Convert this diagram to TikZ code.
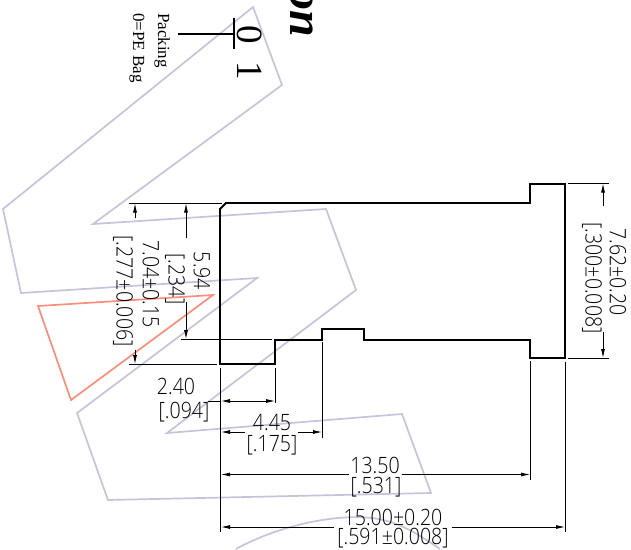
\documentclass[tikz,border=0pt]{standalone}
\usepackage{fontspec}
\usetikzlibrary{arrows.meta}
\setmainfont{Liberation Serif}
\newfontfamily\dimfont{Open Sans Light}
\definecolor{lav}{HTML}{C6C3DA}
\definecolor{sal}{HTML}{FA8E7C}
\tikzset{
  x=1pt,y=-1pt,
  ghost/.style={draw=lav,line width=1.7pt,line join=miter},
  tri/.style={draw=sal,line width=1.7pt},
  part/.style={draw=black,line width=1.8pt,line join=miter},
  ext/.style={draw=black,line width=0.8pt},
  dimline/.style={draw=black,line width=0.8pt,-{Latex[length=9pt,width=4pt]}},
  dimboth/.style={draw=black,line width=0.8pt,{Latex[length=9pt,width=4pt]}-{Latex[length=9pt,width=4pt]}},
  dimtext/.style={font=\dimfont\fontsize{22.5}{22.5}\selectfont,inner sep=0pt,anchor=center,xscale=0.87},
  dimv/.style={font=\dimfont\fontsize{22.5}{22.5}\selectfont,inner sep=0pt,anchor=center,rotate=-90,xscale=0.87},
  serif/.style={inner sep=0pt,rotate=-90,anchor=base west},
}
\begin{document}
\begin{tikzpicture}
\useasboundingbox (0,0) rectangle (631,549);
\clip (0,0) rectangle (631,549);
% ghost shapes
\draw[ghost] (253,7)--(282,85)--(93,224)--(326,209)--(356,290)--(167,433)--(402,414)--(431,493)--(108,500)--(77,413)--(257,278)--(21,293)--(3,209)--cycle;
\draw[ghost] (236,549) .. controls (265,533) and (305,520) .. (345,517.5) .. controls (385,515) and (405,525) .. (440,549);
\draw[tri] (213,295)--(38,306)--(71,400)--cycle;
% title fragment and ordering code
\node[serif,anchor=base east,font=\fontsize{48}{48}\selectfont\bfseries\itshape] (title) at (290,37) {on};
\node[serif,font=\fontsize{37}{37}\selectfont] (codezero) at (237,25) {0};
\node[serif,font=\fontsize{37}{37}\selectfont] (codeone) at (237,61) {1};
\node[serif,font=\fontsize{17}{17}\selectfont] (pack) at (158,13) {Packing};
\node[serif,font=\fontsize{17}{17}\selectfont] (bag) at (133,13) {0=PE Bag};
\draw[line width=1.2pt] (178,34)--(234,34);
\draw[line width=1.4pt] (234,18)--(234,49);
% part outline
\draw[part] (220,209)--(226,203)--(530,203)--(530,184)--(565,184)--(565,358)--(530,358)--(530,340)--(364,340)--(364,329)--(322,329)--(322,340)--(275,340)--(275,364)--(220,364)--cycle;
% extension lines
\draw[ext] (129,203)--(222,203);
\draw[ext] (129,364)--(217,364);
\draw[ext] (181,339)--(272,339);
\draw[ext] (568,183)--(609,183);
\draw[ext] (568,358)--(609,358);
\draw[ext] (220.5,368)--(220.5,532);
\draw[ext] (275,368)--(275,403);
\draw[ext] (322.5,342)--(322.5,438);
\draw[ext] (530.5,361)--(530.5,480);
\draw[ext] (565,362)--(565,532);
% dimension arrows
\draw[dimline] (135,218)--(135,203.5);
\draw[dimline] (135,350)--(135,364);
\draw[dimline] (186,238)--(186,203.5);
\draw[dimline] (186,302)--(186,339);
\draw[dimline] (603,206)--(603,183.5);
\draw[dimline] (603,332)--(603,358);
\draw[dimboth] (275,401)--(221,401);
\draw[ext] (221,401)--(208,401);
\draw[dimline] (245,432)--(221,432);
\draw[dimline] (298,432)--(322,432);
\draw[dimline] (349,474.5)--(221,474.5);
\draw[dimline] (402,474.5)--(530,474.5);
\draw[dimline] (334,527)--(221,527);
\draw[dimline] (452,527)--(565,527);
% labels
\node[dimtext] (a) at (176,386) {2.40};
\node[dimtext] (b) at (184,412) {[.094]};
\node[dimtext] (c) at (272,423) {4.45};
\node[dimtext] (d) at (272,445) {[.175]};
\node[dimtext] (e) at (375,465) {13.50};
\node[dimtext] (f) at (376,487) {[.531]};
\node[dimtext] (g) at (393,517) {15.00±0.20};
\node[dimtext] (h) at (393,538) {[.591±0.008]};
\node[dimv] (i) at (618,272) {7.62±0.20};
\node[dimv] (j) at (592,278) {[.300±0.008]};
\node[dimv] (k) at (202,271) {5.94};
\node[dimv] (l) at (175,279) {[.234]};
\node[dimv] (m) at (151,284) {7.04±0.15};
\node[dimv] (n) at (123,291) {[.277±0.006]};
\end{tikzpicture}
\end{document}
